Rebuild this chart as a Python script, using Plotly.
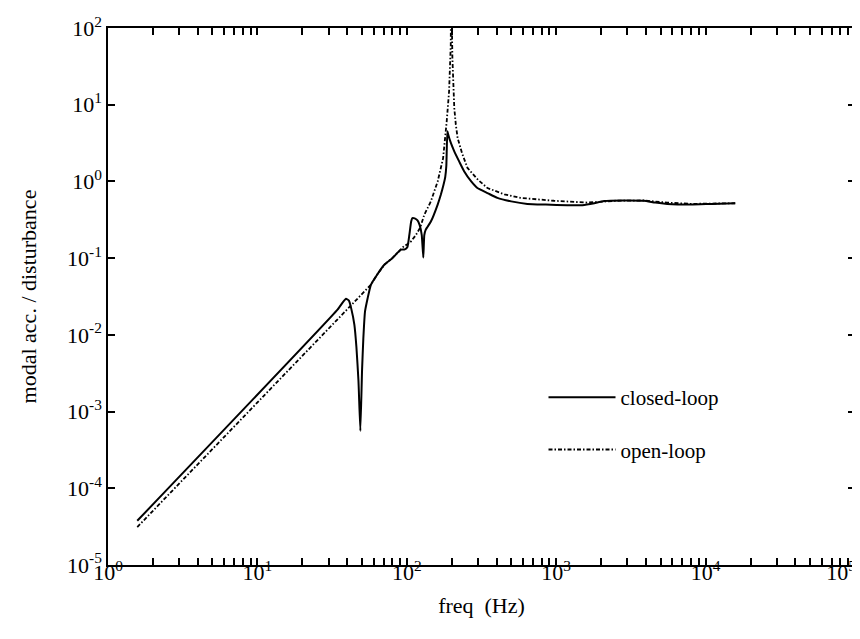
import plotly.graph_objects as go

# ---- data ----
closed_freq = [1.57, 34.5, 37.5, 39.2, 41, 42.5, 44.6, 46, 47.5, 48.9, 50.2, 51.2, 52.5, 54.7,
               57.5, 63, 70.7, 80, 91.4, 97, 101, 104, 107, 109, 113, 118, 122, 126, 129,
               131, 134, 145, 161, 169, 176, 181, 184, 187, 190, 197, 208, 225, 242, 270,
               297, 350, 404, 500, 642, 850, 1189, 1500, 1800, 2090, 2800, 3860, 4600,
               5540, 8000, 11000, 15800]
closed_vals = [3.77e-5, 0.0215, 0.027, 0.0296, 0.028, 0.022, 0.0135, 0.007, 0.0025, 5.6e-4,
               0.0035, 0.009, 0.02, 0.030, 0.045, 0.06, 0.082, 0.10, 0.129, 0.13, 0.14,
               0.2, 0.3, 0.333, 0.33, 0.31, 0.27, 0.2, 0.102, 0.2, 0.235, 0.3, 0.5, 0.67,
               0.9, 1.15, 1.6, 4.5, 4.0, 3.2, 2.47, 1.8, 1.36, 1.0, 0.82, 0.7, 0.61, 0.55,
               0.51, 0.5, 0.49, 0.49, 0.52, 0.555, 0.565, 0.56, 0.53, 0.51, 0.5, 0.51, 0.52]

open_freq = [1.57, 34.5, 57.5, 63, 70.7, 80, 91.4, 96, 100, 107, 115, 123, 131, 145, 161,
             175, 185, 192, 197, 198, 202, 208, 213, 219, 235, 255, 300, 347, 450, 577,
             968, 1620, 2500, 3860, 5540, 8000, 15800]
open_vals = [3.12e-5, 0.016, 0.045, 0.06, 0.082, 0.1, 0.128, 0.144, 0.15, 0.166, 0.2,
             0.25, 0.368, 0.55, 1.0, 2.0, 6.0, 15, 60, 500, 41, 9.06, 5.5, 3.68, 2.3, 1.5,
             1.05, 0.82, 0.68, 0.61, 0.56, 0.53, 0.56, 0.565, 0.53, 0.51, 0.52]

x_decades = [0, 1, 2, 3, 4, 5]
y_decades = [-5, -4, -3, -2, -1, 0, 1, 2]

# ---- ticks ----
x_tickvals, x_ticktext = [], []
for d in x_decades:
    for m in range(1, 10):
        if d == 5 and m > 1:
            break
        x_tickvals.append(m * 10 ** d)
        if m == 1:
            lab = f"10<sup>{d}</sup>"
            if d == x_decades[-1]:
                lab += "&nbsp;" * 5
            x_ticktext.append(lab)
        else:
            x_ticktext.append(" ")
y_tickvals = [10.0 ** d for d in y_decades]
y_ticktext = [f"10<sup>{d}</sup>" for d in y_decades]

FONT = "Liberation Serif, Times New Roman, serif"

fig = go.Figure()
fig.add_trace(go.Scatter(x=closed_freq, y=closed_vals, mode="lines", name="closed-loop",
                         legendgroup="a", line_shape="spline",
                         line=dict(color="black", width=2, smoothing=0.4)))
fig.add_trace(go.Scatter(x=open_freq, y=open_vals, mode="lines", name="open-loop",
                         legendgroup="b",
                         line=dict(color="black", width=1.8, dash="4px,2px,1.5px,2px")))

axis_common = dict(showgrid=False, zeroline=False, showline=True, linecolor="black",
                   linewidth=1.5, mirror="ticks", ticks="inside", tickcolor="black",
                   ticklen=7, tickwidth=1.5, tickangle=0, ticklabeloverflow="allow",
                   tickfont=dict(family=FONT, size=22, color="black"))

fig.update_xaxes(type="log", range=[0, 5.0005], tickmode="array", tickvals=x_tickvals,
                 ticktext=x_ticktext, ticklabelstandoff=-13,
                 title=dict(text="freq&nbsp;&nbsp;(Hz)", font=dict(family=FONT, size=22, color="black"),
                            standoff=13),
                 **axis_common)
fig.update_yaxes(type="log", range=[-5, 2.0005], tickmode="array", tickvals=y_tickvals,
                 ticktext=y_ticktext,
                 title=dict(text="modal acc. / disturbance", font=dict(family=FONT, size=22, color="black"),
                            standoff=24),
                 **axis_common)

fig.update_layout(
    width=860, height=639,
    margin=dict(l=100, r=13, t=20, b=82, autoexpand=False),
    paper_bgcolor="white", plot_bgcolor="white",
    showlegend=True,
    legend=dict(x=0.583, y=0.35, xanchor="left", yanchor="top",
                bgcolor="rgba(0,0,0,0)", borderwidth=0,
                font=dict(family=FONT, size=21, color="black"),
                itemwidth=67, traceorder="grouped", tracegroupgap=22),
    font=dict(family=FONT, color="black"),
)

fig.write_html("out.html")
